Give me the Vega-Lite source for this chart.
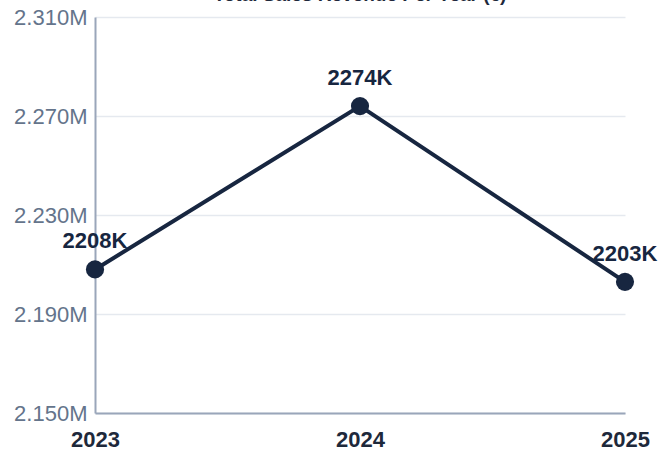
{
  "$schema": "https://vega.github.io/schema/vega-lite/v6.json",
  "autosize": "none",
  "width": 530,
  "height": 396,
  "padding": {"left": 95, "top": 17, "right": 33, "bottom": 40},
  "background": "white",
  "title": {"text": "Total Sales Revenue Per Year (€)", "fontSize": 19, "fontWeight": "bold", "color": "#1e293b", "font": "Liberation Sans", "offset": 1, "anchor": "middle"},
  "config": {"view": {"stroke": null}, "font": "Liberation Sans"},
  "data": {"values": [
    {"year": "2023", "value": 2208, "label": "2208K"},
    {"year": "2024", "value": 2274, "label": "2274K"},
    {"year": "2025", "value": 2203, "label": "2203K"}
  ]},
  "encoding": {
    "x": {"field": "year", "type": "ordinal", "scale": {"type": "point", "padding": 0},
      "axis": {"title": null, "labelAngle": 0, "labelFontSize": 22, "labelFontWeight": "bold", "labelColor": "#1e293b", "ticks": false, "labelPadding": 16, "domainColor": "#9aa6ba", "domainWidth": 2, "grid": false}},
    "y": {"field": "value", "type": "quantitative", "scale": {"domain": [2150, 2310], "nice": false, "zero": false},
      "axis": {"title": null, "values": [2150, 2190, 2230, 2270, 2310], "labelExpr": "format(datum.value/1000, '.3f') + 'M'", "labelFontSize": 22, "labelColor": "#64748b", "ticks": false, "labelPadding": 8, "domainColor": "#9aa6ba", "domainWidth": 2, "gridColor": "#e5e9ef", "gridWidth": 1.5}}
  },
  "layer": [
    {"mark": {"type": "line", "color": "#172640", "strokeWidth": 4}},
    {"mark": {"type": "point", "filled": true, "color": "#172640", "size": 330, "opacity": 1}},
    {"mark": {"type": "text", "fontSize": 22, "fontWeight": "bold", "color": "#172640", "dy": -16, "baseline": "bottom"}, "encoding": {"text": {"field": "label"}}}
  ]
}
